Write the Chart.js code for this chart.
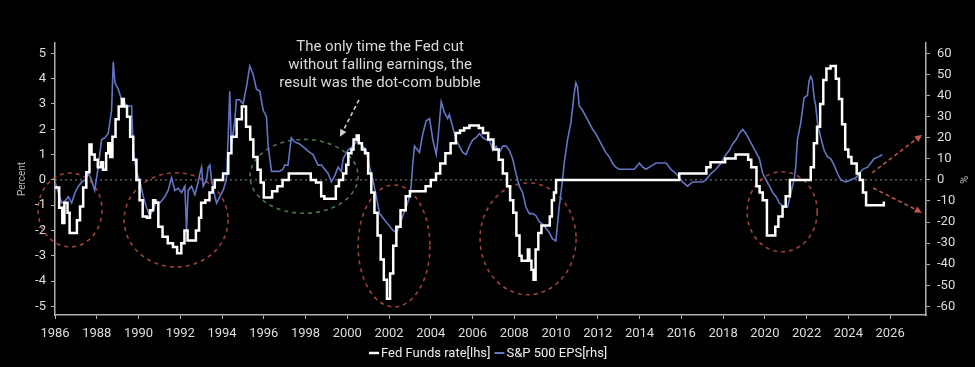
<!DOCTYPE html>
<html>
<head>
<meta charset="utf-8">
<script src="https://cdn.jsdelivr.net/npm/chart.js@4.4.1/dist/chart.umd.min.js"></script>
<style>
  html, body { margin: 0; padding: 0; background: #000; }
</style>
</head>
<body>
<canvas id="fedChart" width="975" height="367"></canvas>
<script>
// Fed funds rate, 12m change (lhs, percent) - value holds from each date until the next
const fedDates = [
  1986.0, 1986.2, 1986.35, 1986.45, 1986.6, 1986.7, 1987.05, 1987.2, 1987.35, 1987.5,
  1987.65, 1987.75, 1987.9, 1988.05, 1988.2, 1988.3, 1988.45, 1988.55, 1988.65, 1988.75,
  1988.9, 1989.05, 1989.2, 1989.3, 1989.45, 1989.6, 1989.75, 1989.9, 1990.05, 1990.2,
  1990.4, 1990.55, 1990.7, 1990.8, 1990.95, 1991.15, 1991.4, 1991.65, 1991.85, 1992.05,
  1992.2, 1992.35, 1992.75, 1992.9, 1993.0, 1993.2, 1993.4, 1993.55, 1993.65, 1994.05,
  1994.3, 1994.45, 1994.7, 1994.95, 1995.15, 1995.35, 1995.5, 1995.7, 1995.85, 1996.0,
  1996.4, 1996.65, 1996.9, 1997.2, 1998.25, 1998.5, 1998.75, 1998.9, 1999.45, 1999.6,
  1999.8, 1999.95, 2000.05, 2000.2, 2000.3, 2000.45, 2000.55, 2000.7, 2000.85, 2001.0,
  2001.15, 2001.3, 2001.45, 2001.6, 2001.75, 2001.9, 2002.05, 2002.2, 2002.35, 2002.55,
  2002.8, 2003.0, 2003.75, 2004.0, 2004.25, 2004.45, 2004.7, 2004.95, 2005.2, 2005.4,
  2005.6, 2005.85, 2006.3, 2006.5, 2006.75, 2007.0, 2007.25, 2007.45, 2007.65, 2007.8,
  2007.95, 2008.1, 2008.25, 2008.35, 2008.65, 2008.72, 2008.82, 2008.92, 2009.02, 2009.15,
  2009.3, 2009.7, 2009.8, 2009.9, 2010.0, 2015.9, 2017.2, 2017.4, 2018.1, 2018.6,
  2019.2, 2019.35, 2019.6, 2019.75, 2019.9, 2020.1, 2020.5, 2020.65, 2020.85, 2021.0,
  2021.2, 2022.2, 2022.35, 2022.5, 2022.65, 2022.8, 2022.95, 2023.15, 2023.4, 2023.55,
  2023.7, 2023.85, 2024.0, 2024.15, 2024.4, 2024.55, 2024.7, 2024.85, 2025.7
];
const fedRate = [
  -0.3, -1.1, -1.7, -0.9, -1.3, -2.1, -1.6, -1.05, -0.3, 0.3,
  1.4, 1.0, 0.8, 0.5, 0.7, 0.4, 1.05, 1.45, 0.9, 1.7,
  2.4, 2.9, 3.2, 2.9, 2.5, 1.7, 0.8, 0.0, -0.8, -1.45,
  -1.5, -1.2, -0.8, -0.9, -1.85, -2.25, -2.5, -2.65, -2.9, -2.5,
  -2.0, -2.4, -2.0, -1.5, -0.9, -0.8, -0.5, -0.3, 0.0, 0.25,
  1.05, 1.7, 2.4, 2.9, 2.1, 1.6, 0.9, 0.4, -0.1, -0.7,
  -0.45, -0.25, 0.0, 0.25, 0.0, -0.1, -0.65, -0.75, -0.25, 0.0,
  0.25, 0.6, 1.05, 1.2, 1.6, 1.75, 1.45, 1.2, 1.05, 0.25,
  -0.5, -1.3, -2.2, -3.15, -3.95, -4.7, -3.7, -2.6, -1.85, -1.2,
  -0.65, -0.45, -0.25, 0.0, 0.25, 0.65, 1.05, 1.45, 1.85, 1.95,
  2.05, 2.15, 2.05, 1.85, 1.6, 1.2, 0.8, 0.25, -0.25, -0.8,
  -1.3, -2.2, -3.0, -3.2, -2.75, -3.2, -3.55, -3.95, -2.75, -2.1,
  -1.8, -1.45, -0.8, -0.5, 0.0, 0.25, 0.5, 0.7, 0.85, 1.0,
  0.8, 0.5, -0.25, -0.5, -0.8, -2.2, -1.85, -1.45, -1.05, -0.65,
  0.0, 0.5, 1.45, 2.1, 3.0, 3.95, 4.4, 4.5, 4.0, 3.2,
  2.2, 1.2, 0.9, 0.65, 0.25, 0.0, -0.5, -1.0, -0.85
];

// S&P 500 EPS, yoy (rhs, %)
const epsDates = [
  1986.0, 1986.16, 1986.32, 1986.48, 1986.64, 1986.8, 1986.96, 1987.12, 1987.28, 1987.44,
  1987.6, 1987.75, 1987.9, 1988.07, 1988.23, 1988.39, 1988.55, 1988.71, 1988.79, 1988.87,
  1989.03, 1989.19, 1989.35, 1989.51, 1989.67, 1989.75, 1989.9, 1990.07, 1990.23, 1990.38,
  1990.54, 1990.7, 1990.86, 1991.02, 1991.26, 1991.42, 1991.58, 1991.74, 1991.9, 1992.06,
  1992.22, 1992.3, 1992.38, 1992.54, 1992.7, 1992.86, 1992.94, 1993.02, 1993.1, 1993.26,
  1993.34, 1993.42, 1993.5, 1993.66, 1993.74, 1993.9, 1994.05, 1994.21, 1994.29, 1994.37,
  1994.45, 1994.61, 1994.69, 1994.85, 1995.01, 1995.17, 1995.33, 1995.49, 1995.65, 1995.81,
  1995.97, 1996.13, 1996.21, 1996.37, 1996.76, 1996.92, 1997.0, 1997.16, 1997.32, 1997.48,
  1997.72, 1997.96, 1998.2, 1998.36, 1998.6, 1998.76, 1998.92, 1999.08, 1999.24, 1999.4,
  1999.56, 1999.72, 1999.8, 2000.03, 2000.27, 2000.51, 2000.67, 2000.91, 2001.07, 2001.23,
  2001.39, 2001.55, 2001.79, 2001.95, 2002.19, 2002.35, 2002.5, 2002.66, 2002.82, 2002.98,
  2003.06, 2003.14, 2003.22, 2003.3, 2003.46, 2003.62, 2003.78, 2003.94, 2004.02, 2004.1,
  2004.26, 2004.34, 2004.5, 2004.65, 2004.81, 2004.89, 2005.05, 2005.21, 2005.37, 2005.53,
  2005.69, 2005.85, 2006.01, 2006.17, 2006.33, 2006.49, 2006.65, 2006.81, 2006.97, 2007.13,
  2007.29, 2007.45, 2007.61, 2007.76, 2007.92, 2008.08, 2008.24, 2008.4, 2008.56, 2008.72,
  2008.88, 2009.04, 2009.2, 2009.36, 2009.52, 2009.68, 2009.83, 2009.99, 2010.15, 2010.31,
  2010.39, 2010.55, 2010.71, 2010.87, 2010.95, 2011.03, 2011.11, 2011.27, 2011.43, 2011.59,
  2011.75, 2011.9, 2012.06, 2012.22, 2012.38, 2012.54, 2012.7, 2012.86, 2013.02, 2013.26,
  2013.5, 2013.75, 2013.99, 2014.15, 2014.31, 2014.47, 2014.63, 2014.79, 2015.03, 2015.27,
  2015.5, 2015.74, 2015.91, 2016.06, 2016.3, 2016.54, 2016.78, 2017.02, 2017.18, 2017.42,
  2017.66, 2017.9, 2018.14, 2018.3, 2018.46, 2018.62, 2018.78, 2018.94, 2019.09, 2019.26,
  2019.42, 2019.58, 2019.74, 2019.9, 2020.06, 2020.22, 2020.38, 2020.54, 2020.7, 2020.93,
  2021.09, 2021.25, 2021.4, 2021.48, 2021.56, 2021.72, 2021.88, 2022.04, 2022.12, 2022.2,
  2022.28, 2022.36, 2022.44, 2022.52, 2022.68, 2022.84, 2023.0, 2023.16, 2023.32, 2023.48,
  2023.64, 2023.88, 2024.12, 2024.36, 2024.52, 2024.68, 2024.92, 2025.08, 2025.23, 2025.47,
  2025.63
];
const epsGrowth = [
  -1, -6, -11, -10, -8, -11, -6, -3, -1, 0,
  3, 0, -5, 6, 19, 20, 22, 33, 56, 46,
  43, 38, 36, 35, 35, 14, 4, -1, -8, -13,
  -17, -14, -10, -11, -8, -5, 1, -5, -4, -6,
  -3, -24, -5, -3, -7, -1, 3, 6, -3, 0,
  6, 7, 0, -8, -11, -8, -5, 0, 19, 42,
  16, 28, 38, 38, 36, 44, 54, 50, 43, 42,
  33, 30, 16, 4, 4, 5, 7, 7, 20, 18,
  17, 15, 13, 12, 7, 7, 5, 3, -1, 2,
  6, 4, 10, 14, 16, 19, 17, 14, 6, 0,
  -8, -16, -19, -21, -24, -25, -22, -17, -13, -8,
  -3, 8, 16, 15, 13, 22, 28, 29, 24, 19,
  12, 19, 37, 32, 29, 31, 25, 19, 16, 13,
  12, 16, 19, 20, 22, 20, 19, 19, 14, 16,
  13, 16, 16, 14, 10, 3, -3, -6, -13, -16,
  -16, -17, -20, -21, -23, -25, -28, -29, -13, 0,
  8, 19, 27, 41, 46, 44, 35, 33, 30, 27,
  24, 22, 19, 16, 13, 11, 8, 6, 5, 5,
  5, 5, 8, 6, 5, 6, 7, 8, 8, 8,
  5, 3, 1, -1, -3, -1, -1, -1, 0, 3,
  5, 8, 12, 14, 17, 19, 22, 24, 22, 19,
  16, 13, 10, 3, 0, -3, -6, -8, -11, -13,
  -13, -6, 0, 6, 19, 27, 39, 40, 47, 49,
  47, 39, 35, 27, 20, 14, 11, 10, 7, 3,
  0, -1, 0, 1, 3, 5, 6, 8, 10, 11,
  12
];

const yearTicks = [1986, 1988, 1990, 1992, 1994, 1996, 1998, 2000, 2002, 2004, 2006,
  2008, 2010, 2012, 2014, 2016, 2018, 2020, 2022, 2024, 2026];

const seriesNames = ['Fed Funds rate[lhs]', 'S&P 500 EPS[rhs]'];
const seriesColors = ['#ffffff', 'rgb(98,118,196)'];

// dashed rings, in (year, lhs value) units
const rings = [
  { x: 1986.72, y: -1.19, rx: 1.53, ry: 1.46, color: 'rgba(185,75,65,0.85)' },
  { x: 1991.8, y: -1.58, rx: 2.49, ry: 1.86, color: 'rgba(185,75,65,0.85)' },
  { x: 1997.93, y: 0.14, rx: 2.59, ry: 1.46, color: 'rgba(85,140,85,0.85)' },
  { x: 2002.24, y: -2.61, rx: 1.72, ry: 2.41, color: 'rgba(185,75,65,0.85)' },
  { x: 2008.66, y: -2.33, rx: 2.3, ry: 2.21, color: 'rgba(185,75,65,0.85)' },
  { x: 2020.83, y: -1.26, rx: 1.68, ry: 1.58, color: 'rgba(185,75,65,0.85)' }
];

const noteLines = [
  'The only time the Fed cut',
  'without falling earnings, the',
  'result was the dot-com bubble'
];

function arrow(ctx, x1, y1, x2, y2, color, head) {
  ctx.save();
  ctx.strokeStyle = color;
  ctx.fillStyle = color;
  ctx.lineWidth = 1.6;
  ctx.setLineDash([4, 3]);
  const a = Math.atan2(y2 - y1, x2 - x1);
  ctx.beginPath();
  ctx.moveTo(x1, y1);
  ctx.lineTo(x2 - Math.cos(a) * head * 0.8, y2 - Math.sin(a) * head * 0.8);
  ctx.stroke();
  ctx.setLineDash([]);
  ctx.beginPath();
  ctx.moveTo(x2, y2);
  ctx.lineTo(x2 - head * Math.cos(a - 0.45), y2 - head * Math.sin(a - 0.45));
  ctx.lineTo(x2 - head * Math.cos(a + 0.45), y2 - head * Math.sin(a + 0.45));
  ctx.closePath();
  ctx.fill();
  ctx.restore();
}

const markup = {
  id: 'markup',
  beforeDatasetsDraw(chart) {
    const { ctx, chartArea, scales: { x, y } } = chart;
    ctx.save();
    // zero line
    ctx.strokeStyle = 'rgba(170,170,170,0.8)';
    ctx.lineWidth = 1;
    ctx.setLineDash([2, 3]);
    ctx.beginPath();
    ctx.moveTo(chartArea.left, y.getPixelForValue(0));
    ctx.lineTo(chartArea.right, y.getPixelForValue(0));
    ctx.stroke();
    // rings
    ctx.lineWidth = 1.6;
    ctx.setLineDash([4, 4]);
    rings.forEach(r => {
      const cx = x.getPixelForValue(r.x);
      const cy = y.getPixelForValue(r.y);
      const rx = x.getPixelForValue(r.x + r.rx) - cx;
      const ry = cy - y.getPixelForValue(r.y + r.ry);
      ctx.strokeStyle = r.color;
      ctx.beginPath();
      ctx.ellipse(cx, cy, rx, ry, 0, 0, Math.PI * 2);
      ctx.stroke();
    });
    ctx.restore();
  },
  afterDatasetsDraw(chart) {
    const { ctx, chartArea, scales: { x, y } } = chart;
    ctx.save();
    ctx.font = '15px Roboto';
    ctx.fillStyle = '#d8d8d8';
    ctx.textAlign = 'center';
    ctx.textBaseline = 'middle';
    const tx = x.getPixelForValue(2001.57);
    noteLines.forEach((t, i) => {
      ctx.fillText(t, tx, y.getPixelForValue(5.34) + 2 + i * 18);
    });

    // right axis title, turned sideways
    ctx.save();
    ctx.translate(963, y.getPixelForValue(0));
    ctx.rotate(Math.PI / 2);
    ctx.font = '11px Roboto';
    ctx.fillStyle = '#bbbbbb';
    ctx.fillText('%', 0, 0);
    ctx.restore();

    // legend
    ctx.font = '13px Roboto';
    ctx.textAlign = 'left';
    ctx.fillStyle = '#eeeeee';
    const ly = chartArea.bottom + 38;
    let lx = 369;
    seriesNames.forEach((name, i) => {
      ctx.strokeStyle = seriesColors[i];
      ctx.lineWidth = i === 0 ? 2.5 : 2;
      ctx.beginPath();
      ctx.moveTo(lx, ly);
      ctx.lineTo(lx + 10, ly);
      ctx.stroke();
      ctx.fillText(name, lx + 12, ly + 1);
      lx += 12 + ctx.measureText(name).width + 4;
    });
    ctx.restore();

    arrow(ctx, x.getPixelForValue(2000.56), y.getPixelForValue(3.16),
      x.getPixelForValue(1999.65), y.getPixelForValue(1.7), '#d0d0d0', 8);
    arrow(ctx, x.getPixelForValue(2025.14), y.getPixelForValue(0.28),
      x.getPixelForValue(2027.53), y.getPixelForValue(1.78), 'rgba(205,95,75,0.9)', 8);
    arrow(ctx, x.getPixelForValue(2025.19), y.getPixelForValue(-0.32),
      x.getPixelForValue(2027.53), y.getPixelForValue(-1.3), 'rgba(205,95,75,0.9)', 8);
  }
};

const axisGrey = '#b0b0b0';
const tickFont = { family: 'Roboto', size: 13 };

new Chart(document.getElementById('fedChart'), {
  type: 'line',
  data: {
    datasets: [
      {
        label: seriesNames[0],
        data: fedDates.map((d, i) => ({ x: d, y: fedRate[i] })),
        borderColor: seriesColors[0],
        borderWidth: 2.5,
        stepped: true,
        pointRadius: 0,
        yAxisID: 'y'
      },
      {
        label: seriesNames[1],
        data: epsDates.map((d, i) => ({ x: d, y: epsGrowth[i] })),
        borderColor: seriesColors[1],
        borderWidth: 1.6,
        tension: 0,
        pointRadius: 0,
        yAxisID: 'y1'
      }
    ]
  },
  options: {
    responsive: false,
    animation: false,
    layout: { padding: { top: 43, left: 0, right: 0, bottom: 25 } },
    plugins: {
      legend: { display: false },
      tooltip: { enabled: false }
    },
    scales: {
      x: {
        type: 'linear',
        min: 1986,
        max: 2027.72,
        afterBuildTicks: s => { s.ticks = yearTicks.map(v => ({ value: v })); },
        ticks: {
          color: '#dddddd',
          font: tickFont,
          padding: 7,
          maxRotation: 0,
          autoSkip: false,
          callback: v => String(v)
        },
        grid: { drawOnChartArea: false, color: axisGrey, tickLength: 4 },
        border: { color: axisGrey, width: 1.5 },
        afterFit: s => { s.height = 27; }
      },
      y: {
        position: 'left',
        min: -5.34,
        max: 5.41,
        ticks: { stepSize: 1, includeBounds: false, color: '#dddddd', font: tickFont, padding: 5 },
        grid: { drawOnChartArea: false, color: axisGrey, tickLength: 4 },
        border: { color: axisGrey, width: 1.5 },
        title: { display: true, text: 'Percent', color: '#bbbbbb', font: { family: 'Roboto', size: 10 }, padding: { top: 16 } },
        afterFit: s => { s.width = 55; }
      },
      y1: {
        position: 'right',
        min: -64.1,
        max: 64.9,
        ticks: { stepSize: 10, includeBounds: false, color: '#dddddd', font: tickFont, padding: 7 },
        grid: { drawOnChartArea: false, color: axisGrey, tickLength: 4 },
        border: { color: axisGrey, width: 1.5 },
        afterFit: s => { s.width = 49; }
      }
    }
  },
  plugins: [markup]
});
</script>
</body>
</html>
